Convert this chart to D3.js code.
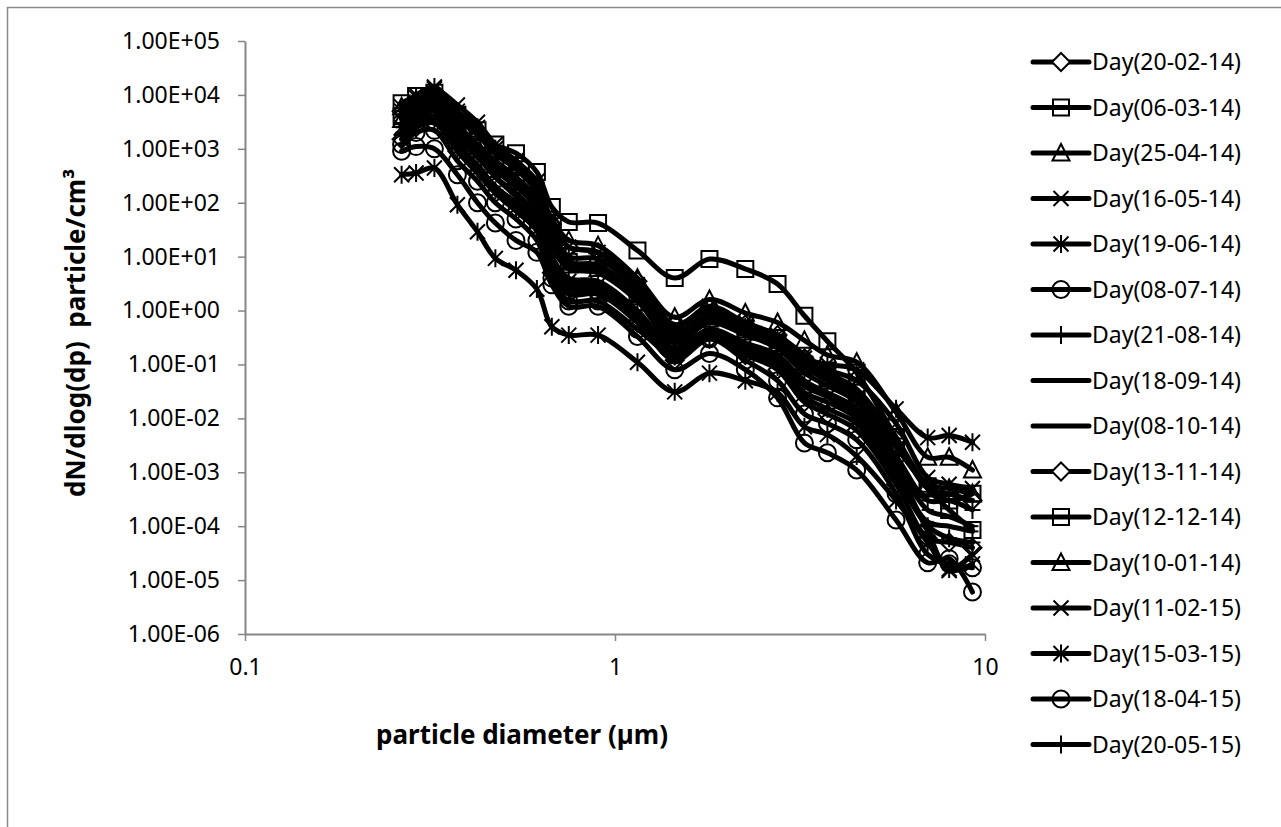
<!DOCTYPE html>
<html>
<head>
<meta charset="utf-8">
<script src="https://cdnjs.cloudflare.com/ajax/libs/d3/7.8.5/d3.min.js"></script>
<style>
  body { margin: 0; background: #fff; }
  text { font-family: 'Noto Sans', sans-serif; fill: #000; }
</style>
</head>
<body>
<script>
// particle diameter channels (um)
var diameters = [0.265, 0.29, 0.325, 0.375, 0.425, 0.475, 0.54, 0.615, 0.675, 0.75, 0.9, 1.15,
    1.45, 1.8, 2.25, 2.75, 3.25, 3.75, 4.5, 5.75, 7, 8, 9.25];

var seriesNames = ['Day(20-02-14)', 'Day(06-03-14)', 'Day(25-04-14)', 'Day(16-05-14)', 'Day(19-06-14)',
    'Day(08-07-14)', 'Day(21-08-14)', 'Day(18-09-14)', 'Day(08-10-14)', 'Day(13-11-14)', 'Day(12-12-14)',
    'Day(10-01-14)', 'Day(11-02-15)', 'Day(15-03-15)', 'Day(18-04-15)', 'Day(20-05-15)'];

var seriesMarkers = ['diamond', 'square', 'triangle', 'x', 'star', 'circle', 'plus', 'dash', 'dash',
    'diamond', 'square', 'triangle', 'x', 'star', 'circle', 'plus'];

// dN/dlog(dp) values, particle/cm3
var day200214 = [5000, 7500, 9000, 3500, 1800, 800, 420, 160, 40, 15, 12, 3.5, 0.55, 1.1, 0.55, 0.35, 0.13, 0.07, 0.035, 0.004, 0.0005, 0.0004, 0.0003];
var day060314 = [7000, 9500, 11000, 4300, 2200, 1200, 830, 370, 83, 44, 42, 13, 4, 9, 5.9, 3.1, 0.8, 0.27, 0.07, 0.0045, 0.00055, 0.0003, 0.0004];
var day250414 = [6000, 8000, 9500, 3500, 2000, 900, 500, 200, 50, 20, 16, 4, 0.75, 1.6, 0.9, 0.6, 0.28, 0.15, 0.11, 0.013, 0.0019, 0.0019, 0.0011];
var day160514 = [6000, 10000, 13000, 6500, 3100, 1200, 600, 250, 40, 15, 12, 3, 0.5, 1.2, 0.6, 0.35, 0.15, 0.08, 0.05, 0.008, 0.0008, 0.0006, 0.0005];
var day190614 = [5000, 9000, 14000, 5000, 2500, 1000, 450, 180, 30, 10, 9, 2.5, 0.4, 0.9, 0.5, 0.3, 0.13, 0.1, 0.08, 0.015, 0.0044, 0.0048, 0.0036];
var day080714 = [900, 1100, 1000, 330, 100, 42, 20, 12, 3, 1.2, 1.2, 0.33, 0.08, 0.16, 0.08, 0.024, 0.0035, 0.0023, 0.0011, 0.00013, 0.000021, 0.000025, 0.000006];
var day210814 = [3000, 5000, 6000, 2000, 900, 400, 200, 80, 15, 6, 5, 1.5, 0.25, 0.6, 0.35, 0.2, 0.07, 0.04, 0.02, 0.002, 0.0003, 0.0003, 0.0002];
var day180914 = [2500, 4000, 5000, 1500, 700, 300, 150, 60, 10, 4, 3.5, 1, 0.2, 0.45, 0.25, 0.15, 0.05, 0.03, 0.015, 0.0015, 0.0002, 0.00015, 0.0001];
var day081014 = [2000, 3500, 4000, 1200, 500, 200, 100, 40, 7, 3, 2.5, 0.8, 0.15, 0.35, 0.2, 0.1, 0.03, 0.02, 0.01, 0.001, 0.00012, 0.0001, 0.00008];
var day131114 = [1500, 2500, 3000, 900, 350, 150, 70, 30, 5, 2, 2, 0.6, 0.12, 0.3, 0.15, 0.08, 0.02, 0.012, 0.006, 0.0006, 0.00006, 0.00005, 0.00004];
var day121214 = [4000, 6000, 8000, 2800, 1200, 600, 300, 120, 25, 8, 7, 2, 0.35, 0.8, 0.45, 0.25, 0.1, 0.06, 0.03, 0.003, 0.0005, 0.0002, 0.000085];
var day100114 = [3500, 5500, 7000, 2500, 1100, 500, 250, 100, 20, 7, 6, 1.8, 0.3, 0.7, 0.4, 0.22, 0.09, 0.05, 0.025, 0.003, 0.0006, 0.0005, 0.0004];
var day110215 = [2500, 4500, 5500, 1800, 800, 300, 130, 50, 9, 3.5, 3, 0.9, 0.18, 0.4, 0.22, 0.12, 0.04, 0.025, 0.012, 0.0012, 0.00008, 0.000015, 0.00002];
var day150315 = [330, 355, 440, 92, 29, 9.3, 5.6, 2.5, 0.5, 0.35, 0.35, 0.11, 0.031, 0.069, 0.05, 0.03, 0.007, 0.005, 0.002, 0.0003, 0.00005, 0.000016, 0.00003];
var day180415 = [1200, 2000, 2200, 600, 250, 100, 50, 20, 4, 1.5, 1.5, 0.45, 0.15, 0.3, 0.12, 0.05, 0.012, 0.008, 0.004, 0.0004, 0.00003, 0.00002, 0.000017];
var day200515 = [1800, 3000, 3500, 1000, 400, 170, 80, 35, 6, 2.5, 2.2, 0.7, 0.14, 0.3, 0.17, 0.09, 0.025, 0.015, 0.008, 0.0008, 0.0001, 0.00006, 0.00005];

var seriesValues = [day200214, day060314, day250414, day160514, day190614, day080714, day210814, day180914,
    day081014, day131114, day121214, day100114, day110215, day150315, day180415, day200515];

var xTicks = [0.1, 1, 10];
var yTicks = [1e-6, 1e-5, 1e-4, 1e-3, 1e-2, 1e-1, 1, 1e1, 1e2, 1e3, 1e4, 1e5];

// svg and plot area
var svgWidth = 1281;
var svgHeight = 827;
var plotLeft = 245, plotRight = 985, plotTop = 41, plotBottom = 634;

var svg = d3.select('body')
    .append('svg')
    .attr('width', svgWidth)
    .attr('height', svgHeight);

// chart border
svg.append('rect')
    .attr('x', 7.5)
    .attr('y', 7.5)
    .attr('width', 1300)
    .attr('height', 900)
    .attr('fill', 'none')
    .attr('stroke', '#8a8a8a')
    .attr('stroke-width', 1.5);

var xScale = d3.scaleLog()
    .domain([0.1, 10])
    .range([plotLeft, plotRight]);

var yScale = d3.scaleLog()
    .domain([1e-6, 1e5])
    .range([plotBottom, plotTop]);

function sciFormat(d) {
    var e = Math.round(Math.log10(d));
    return '1.00E' + (e < 0 ? '-' : '+') + String(Math.abs(e)).padStart(2, '0');
}

var yAxis = d3.axisLeft(yScale)
    .tickValues(yTicks)
    .tickFormat(sciFormat)
    .tickSize(7)
    .tickSizeOuter(0)
    .tickPadding(18);

var xAxis = d3.axisBottom(xScale)
    .tickValues(xTicks)
    .tickFormat(d3.format(''))
    .tickSize(7)
    .tickSizeOuter(0)
    .tickPadding(18);

var yG = svg.append('g')
    .attr('transform', `translate(${plotLeft},0)`)
    .call(yAxis);

var xG = svg.append('g')
    .attr('transform', `translate(0,${plotBottom})`)
    .call(xAxis);

[xG, yG].forEach(function(g) {
    g.select('.domain').attr('stroke', '#868686').attr('stroke-width', 2);
    g.selectAll('.tick line').attr('stroke', '#868686').attr('stroke-width', 1.5);
    g.selectAll('.tick text')
        .style('font-family', "'Noto Sans', sans-serif")
        .style('font-size', '23px')
        .attr('fill', '#000');
});

// marker shapes
function markerPath(type) {
    switch (type) {
        case 'diamond': return 'M0,-9L9,0L0,9L-9,0Z';
        case 'square': return 'M-8,-8H8V8H-8Z';
        case 'triangle': return 'M0,-9L8.5,7.5H-8.5Z';
        case 'x': return 'M-7.5,-7.5L7.5,7.5M-7.5,7.5L7.5,-7.5';
        case 'star': return 'M-7.5,-7.5L7.5,7.5M-7.5,7.5L7.5,-7.5M0,-9V9';
        case 'circle': return 'M8.5,0A8.5,8.5 0 1,1 -8.5,0A8.5,8.5 0 1,1 8.5,0Z';
        case 'plus': return 'M-8,0H8M0,-9V9';
        default: return 'M-6,0H6';
    }
}

var line = d3.line()
    .x(d => xScale(d[0]))
    .y(d => yScale(d[1]))
    .curve(d3.curveCatmullRom.alpha(0.5));

seriesValues.forEach(function(vals, i) {
    var pts = diameters.map((d, j) => [d, vals[j]]);
    var g = svg.append('g');

    g.append('path')
        .datum(pts)
        .attr('d', line)
        .attr('fill', 'none')
        .attr('stroke', '#000')
        .attr('stroke-width', 5)
        .attr('stroke-linejoin', 'round')
        .attr('stroke-linecap', 'round');

    g.selectAll('.marker')
        .data(pts)
        .enter()
        .append('path')
        .attr('class', 'marker')
        .attr('transform', d => `translate(${xScale(d[0])},${yScale(d[1])})`)
        .attr('d', markerPath(seriesMarkers[i]))
        .attr('fill', 'none')
        .attr('stroke', '#000')
        .attr('stroke-width', 2);
});

// legend
var legend = svg.append('g')
    .attr('transform', 'translate(1033,62)');

var items = legend.selectAll('g')
    .data(seriesNames)
    .enter()
    .append('g')
    .attr('transform', (d, i) => `translate(0,${i * 45.5})`);

items.append('line')
    .attr('x1', 0)
    .attr('x2', 56)
    .attr('stroke', '#000')
    .attr('stroke-width', 5)
    .attr('stroke-linecap', 'round');

items.append('path')
    .attr('transform', 'translate(28,0)')
    .attr('d', (d, i) => markerPath(seriesMarkers[i]))
    .attr('fill', (d, i) => seriesMarkers[i] == 'diamond' ? '#fff' : 'none')
    .attr('stroke', '#000')
    .attr('stroke-width', 2);

items.append('text')
    .attr('x', 59)
    .attr('dy', '0.35em')
    .style('font-size', '23px')
    .text(d => d);

// axis titles
svg.append('text')
    .attr('transform', 'translate(76,333) rotate(-90)')
    .attr('text-anchor', 'middle')
    .attr('dy', '0.35em')
    .style('font-size', '26px')
    .style('font-weight', 'bold')
    .style('white-space', 'pre')
    .text('dN/dlog(dp)  particle/cm³');

svg.append('text')
    .attr('x', 522)
    .attr('y', 735)
    .attr('text-anchor', 'middle')
    .attr('dy', '0.35em')
    .style('font-size', '26px')
    .style('font-weight', 'bold')
    .text('particle diameter (µm)');
</script>
</body>
</html>
